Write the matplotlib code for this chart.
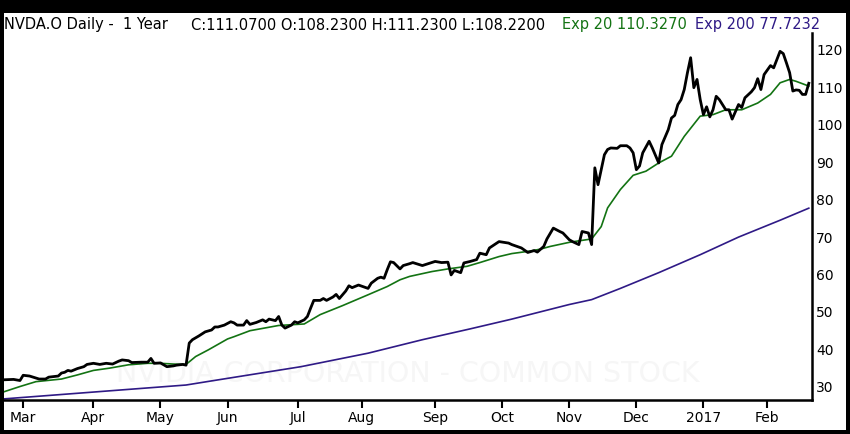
import matplotlib
matplotlib.use('Agg')
import matplotlib.pyplot as plt
from matplotlib.patches import Rectangle

# trading-day index (0 = 2016-02-22) and values
close_day = [0, 3, 5, 6, 8, 11, 13, 14, 17, 18, 19, 20, 21, 23, 25, 26, 28, 30, 32, 34,
             36, 37, 39, 40, 43, 45, 46, 47, 49, 51, 53, 54, 56, 57, 58, 59, 61, 63, 65, 66,
             67, 69, 71, 72, 73, 75, 76, 77, 79, 81, 82, 83, 85, 86, 87, 88, 90, 91, 92, 94,
             95, 96, 97, 99, 100, 101, 103, 104, 105, 107, 108, 109, 111, 112, 114, 115, 117, 118, 119, 120,
             121, 122, 124, 125, 127, 128, 131, 135, 137, 139, 140, 141, 143, 144, 146, 148, 149, 151, 152, 155,
             158, 159, 162, 164, 166, 167, 169, 170, 172, 174, 175, 177, 178, 180, 181, 183, 184, 185, 186, 188,
             189, 190, 192, 193, 195, 196, 197, 198, 199, 200, 202, 203, 205, 206, 208, 209, 210, 211, 212, 213,
             214, 215, 216, 217, 218, 219, 220, 221, 222, 223, 224, 226, 227, 228, 230, 231, 232, 234, 235, 236,
             237, 238, 240, 241, 242, 243, 244, 245, 246, 247, 248, 249, 250, 251, 252]
close_val = [31.9, 32.0, 31.7, 33.1, 32.9, 32.1, 32.1, 32.6, 32.9, 33.7, 33.9, 34.4, 34.2, 34.9, 35.4, 36.0, 36.3, 36.0, 36.3, 36.1,
             36.9, 37.2, 37.0, 36.5, 36.6, 36.6, 37.6, 36.3, 36.4, 35.4, 35.6, 35.8, 36.0, 35.8, 41.7, 42.6, 43.6, 44.7, 45.2, 46.0,
             46.0, 46.5, 47.4, 47.1, 46.5, 46.5, 47.7, 46.7, 47.2, 47.9, 47.4, 48.1, 47.7, 48.8, 46.5, 45.7, 46.5, 47.4, 47.1, 47.9,
             48.8, 51.0, 53.1, 53.1, 53.6, 53.1, 54.0, 54.7, 53.6, 55.6, 57.0, 56.5, 57.2, 56.9, 56.3, 57.7, 59.0, 59.3, 59.0, 61.3,
             63.4, 63.2, 61.5, 62.4, 62.9, 63.2, 62.4, 63.5, 63.2, 63.3, 59.9, 61.1, 60.5, 63.1, 63.5, 64.0, 65.7, 65.3, 67.1, 68.8,
             68.4, 68.0, 67.1, 65.9, 66.4, 66.0, 67.5, 69.5, 72.4, 71.5, 71.1, 69.3, 68.8, 68.0, 71.5, 71.1, 68.0, 88.5, 84.0, 92.0,
             93.4, 93.8, 93.7, 94.4, 94.4, 93.8, 92.5, 88.0, 89.0, 92.5, 95.6, 93.8, 89.8, 94.7, 98.7, 101.8, 102.5, 105.4, 106.7, 109.4,
             113.9, 117.9, 109.9, 112.1, 106.7, 102.7, 104.8, 102.1, 104.0, 107.6, 106.7, 104.0, 104.0, 101.5, 105.4, 104.6, 107.2, 108.8, 109.9, 112.3,
             109.4, 113.4, 115.8, 115.2, 117.4, 119.6, 119.0, 116.5, 113.9, 109.0, 109.3, 109.2, 108.1, 108.1, 111.07]

ema20_day = [0, 5, 10, 18, 23, 28, 33, 39, 45, 49, 53, 57, 60, 64, 70, 72, 77, 86, 94, 99,
             106, 114, 120, 124, 127, 134, 139, 145, 149, 155, 159, 165, 168, 171, 177, 180, 184, 187, 189, 193,
             197, 201, 205, 209, 213, 218, 222, 226, 231, 236, 240, 243, 246, 248, 252]
ema20_val = [28.7, 30.1, 31.4, 32.1, 33.2, 34.4, 35.0, 35.9, 36.3, 36.3, 36.1, 36.0, 38.1, 39.9, 42.8, 43.4, 45.0, 46.4, 46.8, 49.3,
             51.7, 54.6, 56.8, 58.6, 59.5, 60.8, 61.5, 62.2, 63.2, 64.8, 65.6, 66.3, 66.8, 67.5, 68.6, 69.0, 69.5, 72.8, 77.8, 82.7,
             86.5, 87.6, 89.8, 91.6, 96.9, 102.3, 102.7, 104.0, 104.0, 105.8, 108.1, 111.2, 112.1, 111.6, 110.327]

ema200_day = [0, 20, 40, 57, 65, 93, 114, 131, 146, 159, 177, 184, 193, 205, 218, 230, 243, 252]
ema200_val = [26.8, 28.1, 29.4, 30.5, 31.6, 35.4, 39.0, 42.6, 45.5, 48.1, 52.0, 53.3, 56.3, 60.5, 65.3, 70.0, 74.5, 77.7232]

month_day = [6, 28, 49, 70, 92, 112, 135, 156, 177, 198, 219, 239]
month_lbl = ['Mar', 'Apr', 'May', 'Jun', 'Jul', 'Aug', 'Sep', 'Oct', 'Nov', 'Dec', '2017', 'Feb']
y_ticks = [30, 40, 50, 60, 70, 80, 90, 100, 110, 120]

title_parts = [
    ('NVDA.O Daily -  1 Year', 'black', 4),
    ('C:111.0700 O:108.2300 H:111.2300 L:108.2200', 'black', 191),
    ('Exp 20 110.3270', '#137313', 562),
    ('Exp 200 77.7232', '#2f1a86', 695),
]

W, H = 850, 434
fig = plt.figure(figsize=(W / 100, H / 100), dpi=100, facecolor='black')
fig.patches.append(Rectangle((4 / W, 1 - 430 / H), 842 / W, 417 / H,
                             transform=fig.transFigure, facecolor='white',
                             edgecolor='none', zorder=-5))

ax = fig.add_axes([4 / W, 1 - 400 / H, 808 / W, 367 / H])
ax.set_facecolor('none')
ax.set_zorder(2)

# faint watermark behind the lines
ax.text(0.5, 0.07, 'NVIDIA CORPORATION - COMMON STOCK', transform=ax.transAxes,
        ha='center', va='center', fontsize=20.5, color='#f6f6f6', zorder=0)

ax.plot(ema200_day, ema200_val, color='#2f1a86', lw=1.2, zorder=2)
ax.plot(ema20_day, ema20_val, color='#137313', lw=1.2, zorder=3)
ax.plot(close_day, close_val, color='black', lw=2.0, zorder=4, solid_joinstyle='round')

ax.set_xlim(0, 253)
ax.set_ylim(26.5, 124.5)

ax.yaxis.tick_right()
ax.set_yticks(y_ticks)
ax.set_yticklabels([str(v) for v in y_ticks])
ax.tick_params(axis='y', length=0, pad=3, labelsize=10)

ax.set_xticks(month_day)
ax.set_xticklabels(month_lbl)
ax.tick_params(axis='x', length=6, width=1.5, pad=2, labelsize=10, direction='out')

for side in ('left', 'top'):
    ax.spines[side].set_visible(False)
for side in ('right', 'bottom'):
    ax.spines[side].set_linewidth(1.8)

for txt, col, px in title_parts:
    fig.text(px / W, 1 - 25 / H, txt, color=col, fontsize=10.5, ha='left', va='center')

fig.savefig('out.png', dpi=100, facecolor=fig.get_facecolor())
